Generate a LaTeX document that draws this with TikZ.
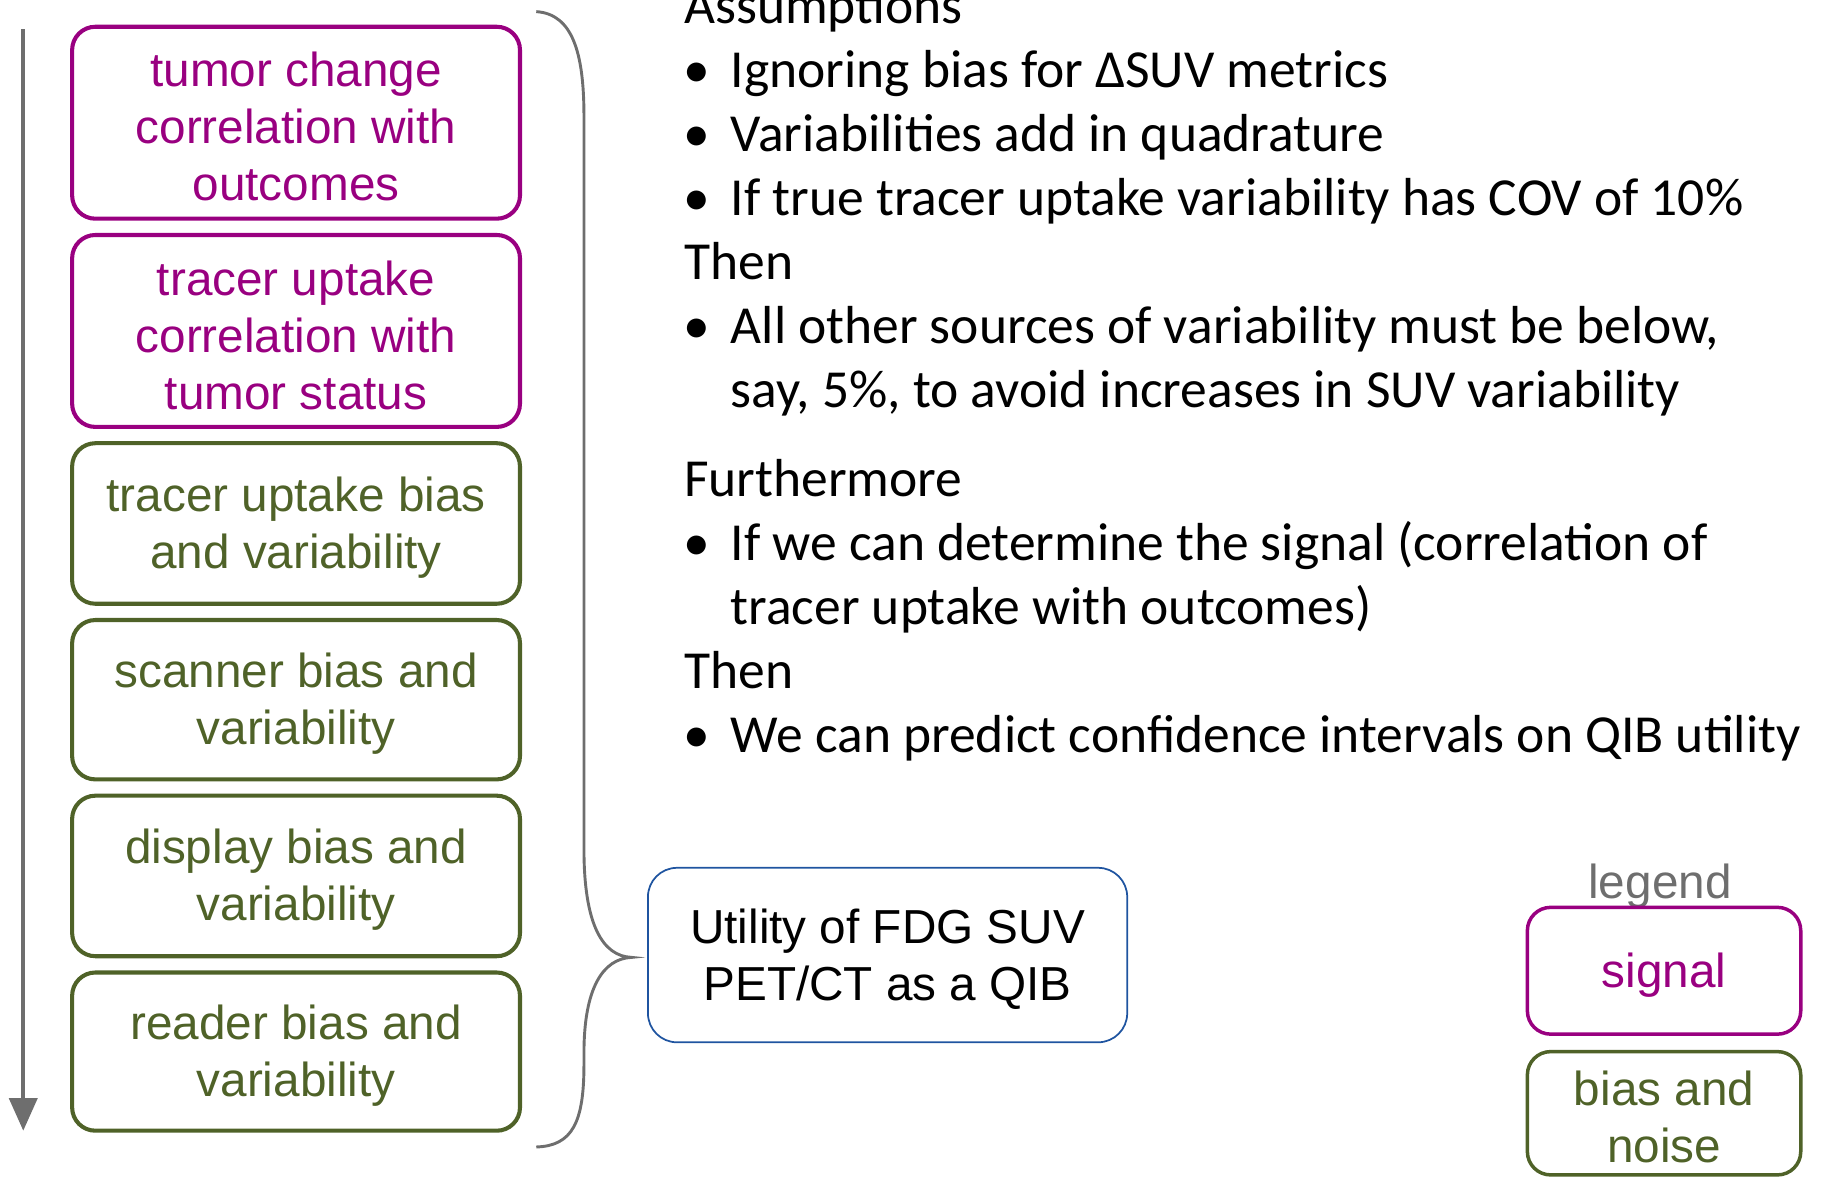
\documentclass[tikz,border=0pt]{standalone}
\usepackage{fontspec}
\setmainfont{Carlito}
\newfontfamily\arialf{Liberation Sans}
\usetikzlibrary{arrows.meta}
\definecolor{sigc}{RGB}{153,0,128}
\definecolor{noic}{RGB}{79,98,40}
\definecolor{grayc}{RGB}{110,110,110}
\definecolor{bluec}{RGB}{31,84,160}
\begin{document}
\begin{tikzpicture}[x=1pt,y=-1pt,
  fbox/.style={draw, rounded corners=20pt, line width=3.5pt, minimum width=385pt, inner sep=0pt},
  sigbox/.style={fbox, draw=sigc},
  noibox/.style={fbox, draw=noic},
  legbox/.style={draw, rounded corners=20pt, line width=3pt, minimum width=235pt, inner sep=0pt},
  btxt/.style={align=center, inner sep=0pt, font=\arialf\fontsize{41}{49}\selectfont},
  txt/.style={anchor=base west, inner sep=0pt, font=\fontsize{46}{55}\selectfont},
  bul/.style={anchor=base, inner sep=0pt, font=\fontsize{46}{55}\selectfont}]
\useasboundingbox (0,0) rectangle (1568,1012);

% arrow
\coordinate (atop) at (20,25);
\coordinate (abot) at (20,972);
\draw[grayc, line width=3.5pt, -{Triangle[width=24pt,length=28pt]}] (atop) -- (abot);

% left boxes
\node[sigbox, minimum height=165pt] (b1) at (254.5,105.5) {};
\node[sigbox, minimum height=165pt] (b2) at (254.5,284.5) {};
\node[noibox, minimum height=138pt] (b3) at (254.5,450) {};
\node[noibox, minimum height=137pt] (b4) at (254.5,601.5) {};
\node[noibox, minimum height=138pt] (b5) at (254.5,753) {};
\node[noibox, minimum height=136pt] (b6) at (254.5,904) {};
\node[btxt, text=sigc] (b1t) at ([yshift=-3.5pt]b1.center) {tumor change\\correlation with\\outcomes};
\node[btxt, text=sigc] (b2t) at ([yshift=-3.5pt]b2.center) {tracer uptake\\correlation with\\tumor status};
\node[btxt, text=noic] (b3t) at ([yshift=-3.5pt]b3.center) {tracer uptake bias\\and variability};
\node[btxt, text=noic] (b4t) at ([yshift=-3.5pt]b4.center) {scanner bias and\\variability};
\node[btxt, text=noic] (b5t) at ([yshift=-3.5pt]b5.center) {display bias and\\variability};
\node[btxt, text=noic] (b6t) at ([yshift=-3.5pt]b6.center) {reader bias and\\variability};

% brace
\draw[grayc, line width=2.5pt]
  (461,10) .. controls (492,12) and (502,45) .. (502,100)
  -- (502,730)
  .. controls (502,795) and (518,822) .. (543,823)
  .. controls (518,824) and (502,850) .. (502,905)
  -- (502,915)
  .. controls (502,965) and (492,985) .. (461,986);

% result box
\node[draw=bluec, line width=1.5pt, rounded corners=25pt, minimum width=412pt, minimum height=150pt, inner sep=0pt] (util) at (763,821) {};
\node[btxt] (utilt) at ([yshift=-3.5pt]util.center) {Utility of FDG SUV\\PET/CT as a QIB};

% legend
\node[btxt, text=grayc] (leg) at (1427,761.5) {legend};
\node[legbox, draw=sigc, minimum height=109pt] (lsig) at (1430.5,834.5) {};
\node[btxt, text=sigc] (lsigt) at ([yshift=-3.5pt]lsig.center) {signal};
\node[legbox, draw=noic, minimum height=106pt] (lnoi) at (1430.5,957) {};
\node[btxt, text=noic] (lnoit) at ([yshift=-3pt]lnoi.center) {bias and\\noise};

% right text
\node[txt] (t0) at (588,20) {Assumptions};
\node[bul] (u1) at (599,75) {•};
\node[txt] (t1) at (628,75) {Ignoring bias for ΔSUV metrics};
\node[bul] (u2) at (599,130) {•};
\node[txt] (t2) at (628,130) {Variabilities add in quadrature};
\node[bul] (u3) at (599,185) {•};
\node[txt] (t3) at (628,185) {If true tracer uptake variability has COV of 10\%};
\node[txt] (t4) at (588,240) {Then};
\node[bul] (u5) at (599,295) {•};
\node[txt] (t5) at (628,295) {All other sources of variability must be below,};
\node[txt] (t6) at (628,350) {say, 5\%, to avoid increases in SUV variability};
\node[txt] (t7) at (588,427) {Furthermore};
\node[bul] (u8) at (599,482) {•};
\node[txt] (t8) at (628,482) {If we can determine the signal (correlation of};
\node[txt] (t9) at (628,537) {tracer uptake with outcomes)};
\node[txt] (t10) at (588,592) {Then};
\node[bul] (u11) at (599,647) {•};
\node[txt] (t11) at (628,647) {We can predict confidence intervals on QIB utility};
\end{tikzpicture}
\end{document}
